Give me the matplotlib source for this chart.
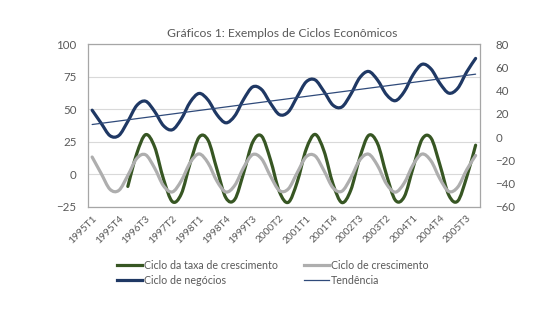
import numpy as np
import matplotlib
matplotlib.use("Agg")
import matplotlib.pyplot as plt
from matplotlib.path import Path
from matplotlib.patches import PathPatch
from matplotlib.lines import Line2D

# ---- data ----
years = list(range(1995, 2006))
quarters = [f"{y}T{q}" for y in years for q in (1, 2, 3, 4)]   # 1995T1 .. 2005T4

tendencia = [38.2, 39.1, 40.0, 40.9, 41.8, 42.7, 43.6, 44.5, 45.4, 46.3, 47.2, 48.1, 49.0, 49.9, 50.8,
             51.7, 52.6, 53.5, 54.4, 55.3, 56.2, 57.1, 58.0, 58.9, 59.8, 60.7, 61.6, 62.5, 63.4, 64.3,
             65.2, 66.1, 67.0, 67.9, 68.8, 69.7, 70.6, 71.5, 72.4, 73.3, 74.2, 75.1, 76.0, 76.9]
ciclo_crescimento = [13.2, 0.7, -11.6, -12.4, -1.0, 12.1, 14.9, 4.8, -8.9, -13.6, -5.0, 9.0, 15.6, 8.6, -5.4,
                     -13.7, -8.5, 5.3, 15.1, 11.8, -1.5, -12.6, -11.3, 1.2, 13.4, 14.1, 2.7, -10.4, -13.1, -2.9,
                     10.8, 15.4, 6.7, -7.4, -13.8, -6.7, 7.4, 15.5, 10.2, -3.6, -13.3, -9.9, 3.4, 14.4]
ciclo_negocios = [49.2, 39.3, 29.6, 29.8, 40.6, 52.8, 56.1, 48.3, 37.3, 34.2, 42.5, 55.5, 62.1, 57.0, 45.7,
                  39.5, 44.9, 57.7, 67.1, 65.1, 54.5, 45.8, 47.9, 59.6, 71.0, 72.5, 63.5, 53.1, 51.7, 61.4,
                  74.1, 79.0, 72.4, 61.2, 56.5, 63.5, 76.6, 84.5, 80.9, 69.8, 62.3, 66.1, 78.6, 89.0]
# growth-rate cycle starts at 1996T1
ciclo_taxa = [-9.4, 15.8, 30.4, 21.1, -3.7, -21.1, -15.1, 8.7, 28.5, 26.1, 3.6, -18.2, -19.3, 1.3, 24.6,
              29.3, 11.0, -13.5, -21.6, -5.9, 19.2, 30.6, 17.8, -7.4, -21.8, -12.3, 12.5, 29.8, 23.6, -0.3,
              -20.0, -17.3, 5.2, 26.9, 27.8, 7.1, -16.2, -20.6, -2.2, 22.3]
taxa_start = 4

left_ticks = [-25, 0, 25, 50, 75, 100]
right_ticks = [-60, -40, -20, 0, 20, 40, 60, 80]

title = "Gráficos 1: Exemplos de Ciclos Econômicos"
labels = ["Ciclo da taxa de crescimento", "Ciclo de crescimento", "Ciclo de negócios", "Tendência"]

# ---- style ----
FONT = ["Lato", "DejaVu Sans"]
plt.rcParams["font.family"] = FONT
TXT = "#595959"
C_GREEN = "#375623"
C_GRAY = "#AEAEAE"
C_NAVY = "#1F3864"
C_TREND = "#2F4A7A"


def smooth_path(x, y):
    """Excel-like smoothed line (cubic Bezier through every point)."""
    x = np.asarray(x, float)
    y = np.asarray(y, float)
    n = len(x)
    verts = [(x[0], y[0])]
    codes = [Path.MOVETO]
    t = 1.0 / 6.0
    for k in range(n - 1):
        x0, y0 = (x[k - 1], y[k - 1]) if k > 0 else (x[k], y[k])
        x3, y3 = (x[k + 2], y[k + 2]) if k + 2 < n else (x[k + 1], y[k + 1])
        c1 = (x[k] + t * (x[k + 1] - x0), y[k] + t * (y[k + 1] - y0))
        c2 = (x[k + 1] - t * (x3 - x[k]), y[k + 1] - t * (y3 - y[k]))
        verts += [c1, c2, (x[k + 1], y[k + 1])]
        codes += [Path.CURVE4] * 3
    return Path(verts, codes)


fig = plt.figure(figsize=(5.55, 3.22), dpi=100)
ax = fig.add_axes([0.158, 0.358, 0.707, 0.505])

xs = np.arange(len(quarters))
series = [
    (xs[taxa_start:], ciclo_taxa, C_GREEN, 2.3),
    (xs, ciclo_crescimento, C_GRAY, 2.3),
    (xs, ciclo_negocios, C_NAVY, 2.3),
    (xs, tendencia, C_TREND, 0.9),
]
for x, y, c, lw in series:
    ax.add_patch(PathPatch(smooth_path(x, y), facecolor="none", edgecolor=c, lw=lw,
                           capstyle="round", joinstyle="round", zorder=3))

ax.set_xlim(-0.5, len(quarters) - 0.5)
ax.set_ylim(-25, 100)
ax.set_yticks(left_ticks)
ax.grid(axis="y", color="#D9D9D9", lw=0.8, zorder=0)
ax.set_axisbelow(True)
ax.set_xticks(xs[::3])
ax.set_xticklabels(quarters[::3], rotation=45, ha="right", va="top",
                   rotation_mode="anchor", fontsize=7.3, color=TXT)
ax.tick_params(axis="x", length=0, pad=5)
ax.tick_params(axis="y", length=0, labelsize=8.3, labelcolor=TXT, pad=8)
for s in ax.spines.values():
    s.set_color("#A6A6A6")
    s.set_linewidth(0.9)

ax2 = ax.twinx()
ax2.set_ylim(-60, 80)
ax2.set_yticks(right_ticks)
ax2.tick_params(axis="y", length=0, labelsize=8.3, labelcolor=TXT, pad=11)
for s in ax2.spines.values():
    s.set_visible(False)

fig.text(0.5076, 0.895, title, ha="center", va="center", fontsize=8.7, color=TXT)

handles = [Line2D([], [], color=C_GREEN, lw=2.3),
           Line2D([], [], color=C_NAVY, lw=2.3),
           Line2D([], [], color=C_GRAY, lw=2.3),
           Line2D([], [], color=C_TREND, lw=0.9)]
hl = [labels[0], labels[2], labels[1], labels[3]]
leg = fig.legend(handles, hl, ncol=2, loc="upper left", bbox_to_anchor=(0.211, 0.194),
                 frameon=False, fontsize=7.7, handlelength=2.34, handletextpad=0.2,
                 columnspacing=2.4, labelspacing=0.42, borderaxespad=0, borderpad=0)
for t in leg.get_texts():
    t.set_color(TXT)

fig.savefig("out.png", dpi=100)
